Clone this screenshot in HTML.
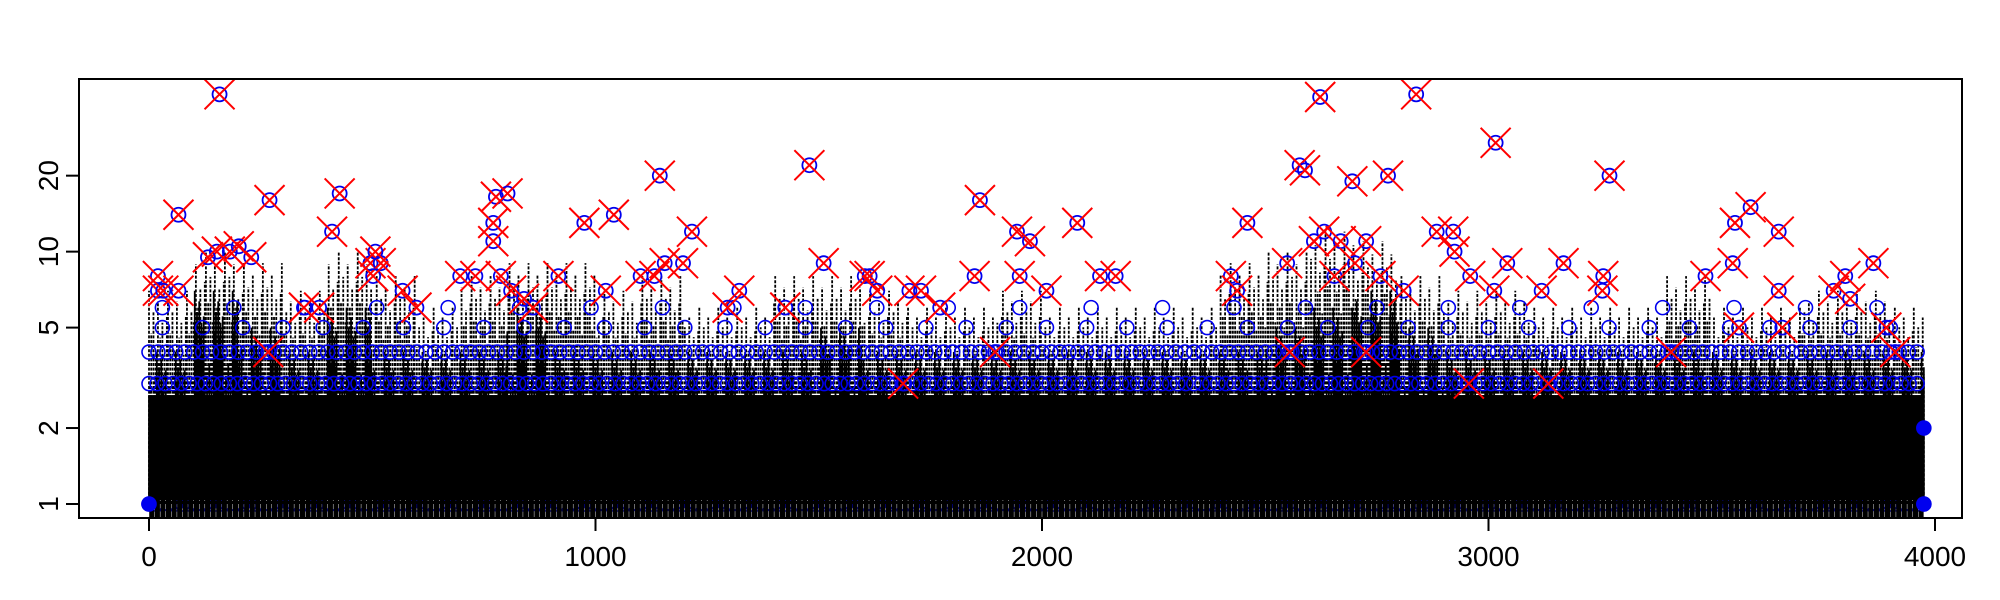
<!DOCTYPE html>
<html><head><meta charset="utf-8"><style>
html,body{margin:0;padding:0;background:#fff}
svg{display:block}
text{font-family:"Liberation Sans",Arial,sans-serif;font-size:28px;fill:#000}
</style></head><body>
<svg id="chart" width="2000" height="600" viewBox="0 0 2000 600" xmlns="http://www.w3.org/2000/svg">
<defs><clipPath id="clip"><rect x="79" y="79" width="1883" height="439"/></clipPath></defs>
<g id="plot" clip-path="url(#clip)"></g>
<g id="axes"></g>
</svg>
<script>
// bins of 100 index units: peak height of dotted spikes and top of solid mass
const binStarts = [0,100,200,300,400,500,600,700,800,900,1000,1100,1200,1300,1400,1500,1600,1700,1800,1900,2000,2100,2200,2300,2400,2500,2600,2700,2800,2900,3000,3100,3200,3300,3400,3500,3600,3700,3800,3900];
const peakValues = [7,10,9,7,10,8,6,8,9,9,7,8,6,6,8,8,7,6,6,7,6,6,6,6,9,10,12,11,8,7,7,6,6,6,8,6,6,7,7,6];
const solidValues = [4,7,5,4,6,4,4,4,6,4,4,4,4,4,4,5,4,4,4,4,4,4,4,4,4,5,6,7,5,4,4,4,4,4,4,4,4,4,4,4];
const lastIndex = 3975;
// outliers (red X with blue circle)
const outX = [158,66,270,427,777,803,975,1041,1144,1479,1216,1861,1944,1973,2079,2460,2577,2589,2623,2695,2775,2838,3016,3271,3552,3587,3650,2884,2921,2924,2632,2669,2726,152,181,132,229,201,410,496,519,502,507,697,731,771,771,788,811,840,860,917,1023,1101,1132,1155,1196,1322,1296,1425,1511,1603,1614,1631,1703,1729,1772,1849,1950,2010,2130,2165,2423,2437,2549,2609,2655,2701,2758,2810,2959,3013,3042,3119,3168,3257,3255,3486,3547,3650,3773,3799,3810,3862,20,20,32,66,568,599,347,381,267,1895,2555,2726,2956,3134,3409,3911,1689,3658,3561,3891];
const outY = [42,14,16,17,16.5,17,13,14,20,22,12,16,12,11,13,13,22,21,41,19,20,42,27,20,13,15,12,12,12,10,12,11,11,10,10,9.5,9.5,10.5,12,9,9,8,10,8,8,13,11,8,7,6.5,6,8,7,8,8,9,9,7,6,6,9,8,8,7,7,7,6,8,8,7,8,8,8,7,9,11,8,9,8,7,8,7,9,7,9,8,7,8,9,7,7,8,6.5,9,8,7,7,7,7,6,6,6,4,4,4,4,3,3,4,4,3,5,5,5];
// rows of plain blue circles (value levels)
const circleLevels = [3,4];
const circleSpacing = [18,20];
const bottomLevel = 1;
const sparseLevels = [5,6];
const sparseSpacing = [90,160];

const svgNS="http://www.w3.org/2000/svg";
const plot=document.getElementById('plot'), axes=document.getElementById('axes');
const X0=149, XS=0.4465, Y1=504, YS=109.6;
function xs(v){return X0+v*XS;}
function ys(v){return Y1-Math.log(v)*YS;}
function mk(tag,attrs,parent){const e=document.createElementNS(svgNS,tag);for(const k in attrs)e.setAttribute(k,attrs[k]);parent.appendChild(e);return e;}

const texture=[1,0.55,0.8,0.45,0.9,0.6,0.72,0.5,0.95,0.66,0.78,0.42,0.85,0.58,0.7,0.35,0.88];
function binAt(v){return Math.min(binStarts.length-1,Math.floor(v/100));}

// bottom-row circles (mostly covered by lines)
const gb=mk('g',{fill:'none',stroke:'#0000ee','stroke-width':1.6},plot);


for(let v=0;v<=lastIndex;v+=15){ mk('circle',{cx:xs(v),cy:ys(bottomLevel),r:7},gb); }

const gl=mk('g',{stroke:'#000','stroke-width':1.8,'stroke-dasharray':'3,1.6'},plot);


let k=0;
for(let v=0;v<=lastIndex;v+=2.5){
  const p=peakValues[binAt(v)], t=texture[k%texture.length]; k++;
  const h=Math.exp(Math.log(p)*t);
  mk('line',{x1:xs(v),x2:xs(v),y1:Y1,y2:ys(Math.max(h,1.05))},gl);
}
const gs=mk('g',{stroke:'#000','stroke-width':1.8},plot);


k=3;
for(let v=0;v<=lastIndex;v+=2.5){
  const s=solidValues[binAt(v)], t=texture[k%texture.length]; k+=2;
  const h=Math.exp(Math.log(s)*t);
  const sk=(k%5===0)?Y1-4:Y1+14;
  mk('line',{x1:xs(v),x2:xs(v),y1:sk,y2:ys(Math.max(h,2.7))},gs);
}

const gc=mk('g',{fill:'none',stroke:'#0000ee','stroke-width':1.6},plot);


circleLevels.forEach((lv,i)=>{
  for(let v=0;v<=lastIndex;v+=circleSpacing[i]){
    mk('circle',{cx:xs(v),cy:ys(lv),r:7},gc);
  }
});
sparseLevels.forEach((lv,i)=>{
  for(let v=30;v<=lastIndex;v+=sparseSpacing[i]){
    mk('circle',{cx:xs(v),cy:ys(lv),r:7},gc);
  }
});
[1,2].forEach(lv=>{
  const c=mk('circle',{cx:xs(lastIndex),cy:ys(lv),r:7,fill:'#0000ee'},gc);
  
  
});
mk('circle',{cx:xs(0),cy:ys(1),r:7,fill:'#0000ee'},gc);

const go=mk('g',{},plot);


outX.forEach((v,i)=>{
  const cx=xs(v), cy=ys(outY[i]);
  const c=mk('circle',{cx:cx,cy:cy,r:7,fill:'none',stroke:'#0000ee','stroke-width':1.8},go);
  
  
  const p=mk('path',{d:`M${cx-15},${cy-15}L${cx+15},${cy+15}M${cx-15},${cy+15}L${cx+15},${cy-15}`,stroke:'#ff0000','stroke-width':2,fill:'none'},go);
  
  
});

// axes
const box=mk('rect',{x:79,y:79,width:1883,height:439,fill:'none',stroke:'#000','stroke-width':2},axes);


const xTicks=[0,1000,2000,3000,4000];
const yTicks=[1,2,5,10,20];
xTicks.forEach(t=>{
  mk('line',{x1:xs(t),x2:xs(t),y1:518,y2:531,stroke:'#000','stroke-width':2},axes);
  const tx=mk('text',{x:xs(t),y:566,'text-anchor':'middle'},axes);
  tx.textContent=t;
  
  
});
yTicks.forEach(t=>{
  mk('line',{x1:66,x2:79,y1:ys(t),y2:ys(t),stroke:'#000','stroke-width':2},axes);
  const tx=mk('text',{x:58,y:ys(t),'text-anchor':'middle',transform:`rotate(-90 58 ${ys(t)})`},axes);
  tx.textContent=t;
  
  
});
</script>
</body></html>
